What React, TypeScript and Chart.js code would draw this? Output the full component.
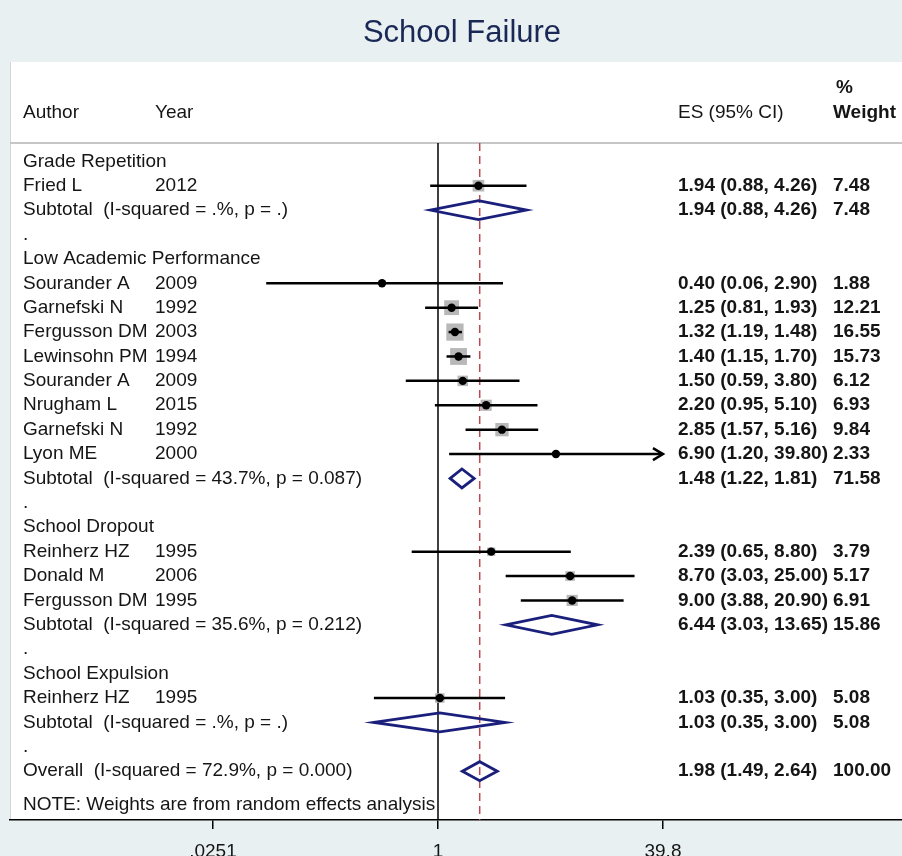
import React, { useEffect, useRef } from "react";
import { Chart, registerables } from "chart.js";

Chart.register(...registerables);

// ---------- data ----------
const chartTitle = "School Failure";
const groupNames = ["Grade Repetition", "Low Academic Performance", "School Dropout", "School Expulsion"];
const authors = ["Fried L", "Sourander A", "Garnefski N", "Fergusson DM", "Lewinsohn PM", "Sourander A", "Nrugham L", "Garnefski N", "Lyon ME", "Reinherz HZ", "Donald M", "Fergusson DM", "Reinherz HZ"];
const years = ["2012", "2009", "1992", "2003", "1994", "2009", "2015", "1992", "2000", "1995", "2006", "1995", "1995"];
const studyGroup = [0, 1, 1, 1, 1, 1, 1, 1, 1, 2, 2, 2, 3];
const estimates = [1.94, 0.40, 1.25, 1.32, 1.40, 1.50, 2.20, 2.85, 6.90, 2.39, 8.70, 9.00, 1.03];
const lowerCI = [0.88, 0.06, 0.81, 1.19, 1.15, 0.59, 0.95, 1.57, 1.20, 0.65, 3.03, 3.88, 0.35];
const upperCI = [4.26, 2.90, 1.93, 1.48, 1.70, 3.80, 5.10, 5.16, 39.80, 8.80, 25.00, 20.90, 3.00];
const weights = [7.48, 1.88, 12.21, 16.55, 15.73, 6.12, 6.93, 9.84, 2.33, 3.79, 5.17, 6.91, 5.08];
const subtotalES = [1.94, 1.48, 6.44, 1.03];
const subtotalLower = [0.88, 1.22, 3.03, 0.35];
const subtotalUpper = [4.26, 1.81, 13.65, 3.00];
const subtotalWeight = [7.48, 71.58, 15.86, 5.08];
const subtotalI2 = [".%", "43.7%", "35.6%", ".%"];
const subtotalP = [".", "0.087", "0.212", "."];
const overallES = 1.98;
const overallLower = 1.49;
const overallUpper = 2.64;
const overallWeight = 100.0;
const overallI2 = "72.9%";
const overallP = "0.000";
const xTickValues = [0.0251, 1, 39.8];
const xTickLabels = [".0251", "1", "39.8"];
const headerLabels = ["Author", "Year", "ES (95% CI)", "%", "Weight"];
const noteText = "NOTE: Weights are from random effects analysis";

// ---------- layout / style ----------
const W = 902;
const H = 856;
const FONT = "'Liberation Sans', Arial, sans-serif";
const PLOT_TOP = 143;
const AXIS_H = 36;
const PANEL_LEFT = 10;
const X_MIN = 0.000904;
const X_MAX = 1995;
const Y_MIN = -0.75;
const Y_MAX = 27.0;
const COL_AUTHOR = 23;
const COL_YEAR = 155;
const COL_ES = 678;
const COL_WEIGHT = 833;
const BG = "#e8f0f2";
const NAVY = "#1a1f7c";
const TEXT = "#151515";

type Row = { kind: string; text?: string; study?: number; group?: number };

function buildRows(): Row[] {
  const rows: Row[] = [];
  groupNames.forEach((name, g) => {
    rows.push({ kind: "group", text: name });
    studyGroup.forEach((sg, i) => {
      if (sg === g) rows.push({ kind: "study", study: i });
    });
    rows.push({ kind: "subtotal", group: g });
    rows.push({ kind: "blank" });
  });
  rows.push({ kind: "overall" });
  return rows;
}

const f2 = (v: number) => v.toFixed(2);
const esText = (e: number, l: number, h: number) => `${f2(e)} (${f2(l)}, ${f2(h)})`;

export default function App() {
  const ref = useRef<HTMLCanvasElement>(null);

  useEffect(() => {
    document.body.style.margin = "0";
    const canvas = ref.current!;
    const rows = buildRows();
    const studyRow: number[] = [];
    const subtotalRow: number[] = [];
    let overallRow = 0;
    rows.forEach((r, idx) => {
      if (r.kind === "study") studyRow[r.study!] = idx;
      if (r.kind === "subtotal") subtotalRow[r.group!] = idx;
      if (r.kind === "overall") overallRow = idx;
    });

    const squares = estimates.map((e, i) => ({ x: e, y: studyRow[i] }));
    const dots = estimates.map((e, i) => ({ x: e, y: studyRow[i] }));

    const drawDiamond = (ctx: CanvasRenderingContext2D, xs: any, ys: any, e: number, l: number, h: number, row: number) => {
      const y = ys.getPixelForValue(row);
      const xl = xs.getPixelForValue(l);
      const xe = xs.getPixelForValue(e);
      const xh = xs.getPixelForValue(h);
      const hh = 9.5;
      ctx.save();
      ctx.strokeStyle = NAVY;
      ctx.lineWidth = 2.8;
      ctx.lineJoin = "miter";
      ctx.beginPath();
      ctx.moveTo(xl, y);
      ctx.lineTo(xe, y - hh);
      ctx.lineTo(xh, y);
      ctx.lineTo(xe, y + hh);
      ctx.closePath();
      ctx.stroke();
      ctx.restore();
    };

    const forestPlugin = {
      id: "forest",
      beforeDraw(chart: any) {
        const ctx: CanvasRenderingContext2D = chart.ctx;
        const area = chart.chartArea;
        ctx.save();
        ctx.fillStyle = BG;
        ctx.fillRect(0, 0, W, H);
        ctx.fillStyle = "#ffffff";
        ctx.fillRect(PANEL_LEFT, 62, W - PANEL_LEFT, area.bottom - 62);
        ctx.strokeStyle = "#d0d6d8";
        ctx.lineWidth = 1;
        ctx.beginPath();
        ctx.moveTo(PANEL_LEFT + 0.5, 62);
        ctx.lineTo(PANEL_LEFT + 0.5, area.bottom);
        ctx.stroke();
        // top plot rule
        ctx.strokeStyle = "#c6c6c6";
        ctx.lineWidth = 2;
        ctx.beginPath();
        ctx.moveTo(PANEL_LEFT, area.top);
        ctx.lineTo(W, area.top);
        ctx.stroke();
        // title
        ctx.fillStyle = "#1a2856";
        ctx.font = `31px ${FONT}`;
        ctx.textAlign = "center";
        ctx.textBaseline = "middle";
        ctx.fillText(chartTitle, 462, 33);
        // headers
        ctx.fillStyle = TEXT;
        ctx.font = `19px ${FONT}`;
        ctx.textAlign = "left";
        ctx.fillText(headerLabels[0], COL_AUTHOR, 113);
        ctx.fillText(headerLabels[1], COL_YEAR, 113);
        ctx.fillText(headerLabels[2], COL_ES, 113);
        ctx.font = `bold 19px ${FONT}`;
        ctx.fillText(headerLabels[3], COL_WEIGHT + 3, 88);
        ctx.fillText(headerLabels[4], COL_WEIGHT, 113);
        ctx.restore();
      },
      beforeDatasetsDraw(chart: any) {
        const ctx: CanvasRenderingContext2D = chart.ctx;
        const area = chart.chartArea;
        const xs = chart.scales.x;
        ctx.save();
        const x1 = xs.getPixelForValue(1);
        ctx.strokeStyle = "#000000";
        ctx.lineWidth = 1.5;
        ctx.beginPath();
        ctx.moveTo(x1, area.top);
        ctx.lineTo(x1, area.bottom);
        ctx.stroke();
        const xo = xs.getPixelForValue(overallES);
        ctx.strokeStyle = "#bb4a50";
        ctx.setLineDash([8, 5]);
        ctx.beginPath();
        ctx.moveTo(xo, area.top);
        ctx.lineTo(xo, area.bottom);
        ctx.stroke();
        ctx.restore();
      },
      afterDatasetDraw(chart: any, args: any) {
        if (args.index !== 0) return;
        const ctx: CanvasRenderingContext2D = chart.ctx;
        const xs = chart.scales.x;
        const ys = chart.scales.y;
        const clipLo = xTickValues[0];
        const clipHi = xTickValues[xTickValues.length - 1];
        ctx.save();
        ctx.strokeStyle = "#000000";
        ctx.lineWidth = 2.5;
        estimates.forEach((_, i) => {
          const y = ys.getPixelForValue(studyRow[i]);
          const lo = Math.max(lowerCI[i], clipLo);
          const hi = Math.min(upperCI[i], clipHi);
          const xl = xs.getPixelForValue(lo);
          const xh = xs.getPixelForValue(hi);
          ctx.beginPath();
          ctx.moveTo(xl, y);
          ctx.lineTo(xh, y);
          ctx.stroke();
          if (upperCI[i] >= clipHi) {
            ctx.beginPath();
            ctx.moveTo(xh - 10, y - 6);
            ctx.lineTo(xh, y);
            ctx.lineTo(xh - 10, y + 6);
            ctx.stroke();
          }
          if (lowerCI[i] <= clipLo) {
            ctx.beginPath();
            ctx.moveTo(xl + 10, y - 6);
            ctx.lineTo(xl, y);
            ctx.lineTo(xl + 10, y + 6);
            ctx.stroke();
          }
        });
        ctx.restore();
      },
      afterDatasetsDraw(chart: any) {
        const ctx: CanvasRenderingContext2D = chart.ctx;
        const xs = chart.scales.x;
        const ys = chart.scales.y;
        subtotalES.forEach((e, g) => drawDiamond(ctx, xs, ys, e, subtotalLower[g], subtotalUpper[g], subtotalRow[g]));
        drawDiamond(ctx, xs, ys, overallES, overallLower, overallUpper, overallRow);

        ctx.save();
        ctx.fillStyle = TEXT;
        ctx.textBaseline = "middle";
        ctx.textAlign = "left";
        rows.forEach((r, idx) => {
          const y = ys.getPixelForValue(idx);
          ctx.font = `19px ${FONT}`;
          if (r.kind === "group") {
            ctx.fillText(r.text!, COL_AUTHOR, y);
          } else if (r.kind === "blank") {
            ctx.fillText(".", COL_AUTHOR, y);
          } else if (r.kind === "study") {
            const i = r.study!;
            ctx.fillText(authors[i], COL_AUTHOR, y);
            ctx.fillText(years[i], COL_YEAR, y);
            ctx.font = `bold 19px ${FONT}`;
            ctx.fillText(esText(estimates[i], lowerCI[i], upperCI[i]), COL_ES, y);
            ctx.fillText(f2(weights[i]), COL_WEIGHT, y);
          } else if (r.kind === "subtotal") {
            const g = r.group!;
            ctx.fillText(`Subtotal  (I-squared = ${subtotalI2[g]}, p = ${subtotalP[g]})`, COL_AUTHOR, y);
            ctx.font = `bold 19px ${FONT}`;
            ctx.fillText(esText(subtotalES[g], subtotalLower[g], subtotalUpper[g]), COL_ES, y);
            ctx.fillText(f2(subtotalWeight[g]), COL_WEIGHT, y);
          } else if (r.kind === "overall") {
            ctx.fillText(`Overall  (I-squared = ${overallI2}, p = ${overallP})`, COL_AUTHOR, y);
            ctx.font = `bold 19px ${FONT}`;
            ctx.fillText(esText(overallES, overallLower, overallUpper), COL_ES, y);
            ctx.fillText(f2(overallWeight), COL_WEIGHT, y);
          }
        });
        ctx.font = `19px ${FONT}`;
        ctx.fillText(noteText, COL_AUTHOR, ys.getPixelForValue(overallRow) + 34);
        ctx.restore();
      },
    };

    const chart = new Chart(canvas, {
      type: "scatter",
      data: {
        datasets: [
          {
            label: "weight",
            data: squares,
            order: 2,
            pointStyle: "rect",
            backgroundColor: "#b8b8b8",
            borderWidth: 0,
            pointRadius: (c: any) => 3.0 * Math.sqrt(weights[c.dataIndex] ?? 0),
            pointHoverRadius: (c: any) => 3.0 * Math.sqrt(weights[c.dataIndex] ?? 0),
          },
          {
            label: "estimate",
            data: dots,
            order: 1,
            pointStyle: "circle",
            backgroundColor: "#000000",
            borderWidth: 0,
            pointRadius: 4.2,
            pointHoverRadius: 4.2,
          },
        ],
      },
      options: {
        animation: false,
        responsive: false,
        devicePixelRatio: 1,
        events: [],
        layout: { autoPadding: false, padding: { left: PANEL_LEFT, right: 0, top: PLOT_TOP, bottom: 0 } },
        plugins: { legend: { display: false }, tooltip: { enabled: false }, title: { display: false } },
        scales: {
          x: {
            type: "logarithmic",
            position: "bottom",
            min: X_MIN,
            max: X_MAX,
            bounds: "data",
            afterBuildTicks: (scale: any) => {
              scale.ticks = xTickValues.map((v) => ({ value: v }));
            },
            afterFit: (scale: any) => {
              scale.height = AXIS_H;
              scale.paddingLeft = 0;
              scale.paddingRight = 0;
            },
            ticks: {
              autoSkip: false,
              maxRotation: 0,
              padding: 11,
              color: TEXT,
              font: { family: FONT, size: 19 },
              callback: (v: any) => {
                const k = xTickValues.indexOf(Number(v));
                return k >= 0 ? xTickLabels[k] : "";
              },
            },
            grid: {
              drawOnChartArea: false,
              drawTicks: true,
              tickLength: 9,
              tickColor: "#000000",
              lineWidth: 1.5,
            },
            border: { display: true, color: "#000000", width: 1.5 },
          },
          y: {
            type: "linear",
            display: false,
            reverse: true,
            min: Y_MIN,
            max: Y_MAX,
          },
        },
      },
      plugins: [forestPlugin],
    } as any);

    return () => chart.destroy();
  }, []);

  return (
    <div style={{ width: W, height: H, overflow: "hidden" }}>
      <canvas ref={ref} width={W} height={H} style={{ display: "block" }} />
    </div>
  );
}
